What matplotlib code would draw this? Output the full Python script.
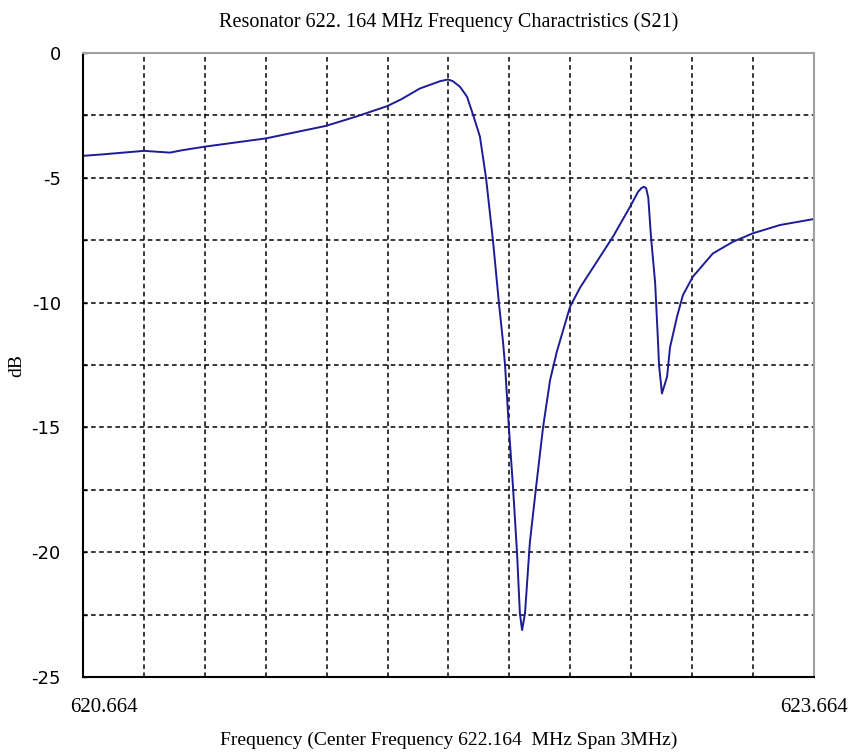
import numpy as np
import matplotlib
matplotlib.use('Agg')
import matplotlib.pyplot as plt
import matplotlib.transforms as mtransforms

# S21 curve (frequency in MHz, level in dB)
freq = [620.664, 620.746, 620.914, 621.021, 621.074, 621.165, 621.415, 621.661,
        621.784, 621.912, 621.969, 622.047, 622.129, 622.162, 622.182, 622.211,
        622.240, 622.265, 622.293, 622.318, 622.347, 622.371, 622.388,
        622.396, 622.412, 622.429, 622.445, 622.457, 622.466, 622.478, 622.498,
        622.523, 622.552, 622.581, 622.609, 622.663, 622.704, 622.786, 622.839,
        622.909, 622.942, 622.956, 622.966, 622.975, 622.984, 622.995, 623.012,
        623.024, 623.028, 623.040, 623.061, 623.073, 623.102, 623.126, 623.167,
        623.249, 623.332, 623.414, 623.525, 623.664]
s21 = [-4.12, -4.06, -3.92, -3.99, -3.89, -3.75, -3.42, -2.92,
       -2.55, -2.13, -1.86, -1.42, -1.13, -1.06, -1.13, -1.35,
       -1.75, -2.48, -3.35, -5.00, -7.56, -10.02, -11.6,
       -12.5, -15.02, -17.43, -19.98, -22.45, -23.12, -22.45, -19.6,
       -17.43, -15.0, -13.1, -11.95, -10.16, -9.4, -8.16, -7.36,
       -6.16, -5.56, -5.41, -5.36, -5.41, -5.8, -7.36, -9.2,
       -11.6, -12.5, -13.64, -12.97, -11.8, -10.56, -9.7, -8.96,
       -8.03, -7.56, -7.22, -6.89, -6.65]

f_start = 620.664
f_stop = 623.664
y_ticks = [0, -5, -10, -15, -20, -25]
x_grid = np.arange(f_start + 0.25, f_stop - 0.1, 0.25)
y_grid = np.arange(-22.5, -2.4, 2.5)

fig = plt.figure(figsize=(8.52, 7.53), dpi=100)
ax = fig.add_axes([0.0974, 0.1009, 0.858, 0.8287])

dash = (0, (3, 2.3))
for xv in x_grid:
    ax.axvline(xv, color='black', linestyle=dash, lw=1.1, zorder=1)
for yv in y_grid:
    ax.axhline(yv, color='black', linestyle=dash, lw=1.1, zorder=1)

ax.plot(freq, s21, color='#1c1c96', lw=1.4, zorder=2)

ax.set_xlim(f_start, f_stop)
ax.set_ylim(-25, 0)

ax.set_xticks([f_start, f_stop])
ax.set_xticklabels(['620.664', '623.664'], family='Liberation Serif', fontsize=15)
ax.set_yticks(y_ticks)
ax.set_yticklabels([str(v) for v in y_ticks], family='DejaVu Sans', fontsize=13)
ax.set_yticks(np.arange(-25, 0.01, 2.5), minor=True)
ax.tick_params(axis='x', length=0, pad=15)
ax.tick_params(axis='y', which='both', direction='in', length=3, width=1, pad=16)

# shift the first x label to the right like the original
lbl = ax.get_xticklabels()[0]
lbl.set_transform(lbl.get_transform() + mtransforms.ScaledTranslation(0.21, 0, fig.dpi_scale_trans))

for s in ['left', 'bottom']:
    ax.spines[s].set_color('black')
    ax.spines[s].set_linewidth(1.5)
for s in ['top', 'right']:
    ax.spines[s].set_color('#a0a0a0')
    ax.spines[s].set_linewidth(1.5)

ax.set_title('Resonator 622. 164 MHz Frequency Charactristics (S21)',
             family='Liberation Serif', fontsize=14.5, pad=18.5)
ax.set_xlabel('Frequency (Center Frequency 622.164  MHz Span 3MHz)',
              family='Liberation Serif', fontsize=14, labelpad=11)
ax.set_ylabel('dB', family='Liberation Serif', fontsize=14, labelpad=4)

fig.savefig('out.png', dpi=100)
